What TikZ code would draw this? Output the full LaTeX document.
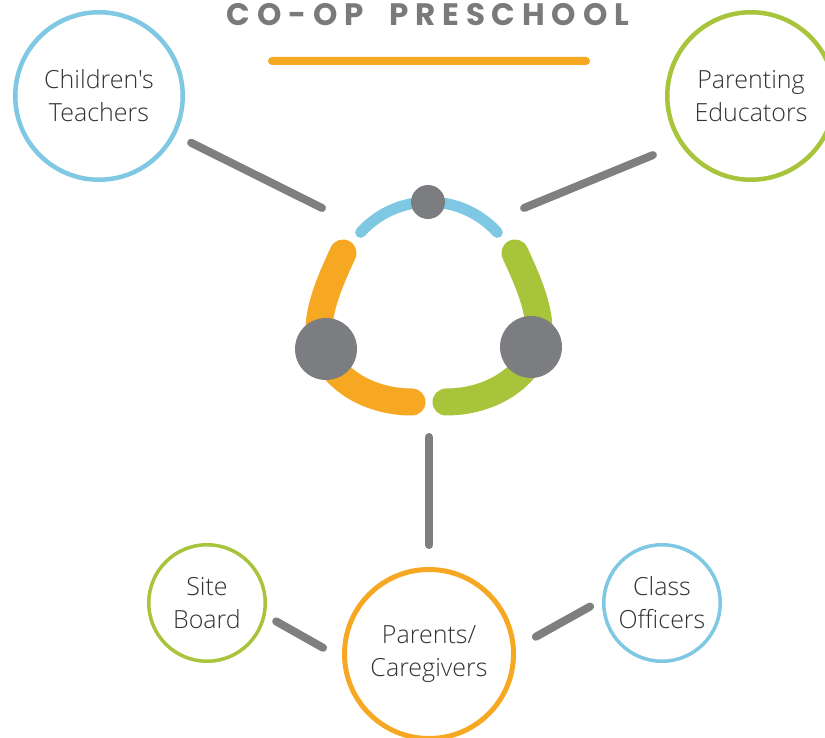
\documentclass[tikz,border=0pt]{standalone}
\usepackage{fontspec}
\newfontfamily\labelfont{Open Sans Light}
\newfontfamily\titlefont{Poppins}[LetterSpace=22]
\definecolor{cblue}{HTML}{7EC8E3}
\definecolor{corange}{HTML}{F7A823}
\definecolor{cgreen}{HTML}{A8C43A}
\definecolor{cgray}{HTML}{7F7F7F}
\definecolor{cdot}{HTML}{7C7D81}
\definecolor{ctext}{HTML}{333333}
\definecolor{ctitle}{HTML}{7A7A7A}
\tikzset{
  role/.style={circle, draw, fill=white, inner sep=0pt, align=center, text=ctext,
    font=\labelfont\fontsize{25}{33}\selectfont},
  bigrole/.style={role, line width=4.5pt, minimum size=167.5pt},
  smallrole/.style={role, line width=3.5pt, minimum size=116.5pt},
  link/.style={draw=cgray, line width=8pt, line cap=round},
  dotnode/.style={circle, fill=cdot, inner sep=0pt},
  ringarc/.style={line cap=round}
}
\begin{document}
\begin{tikzpicture}[x=1pt,y=-1pt]
\useasboundingbox (0,0) rectangle (825,738);
\clip (0,0) rectangle (825,738);
\fill[white] (0,0) rectangle (825,738);
% title
\node[text=ctitle, font=\titlefont\bfseries\fontsize{31}{31}\selectfont, inner sep=0pt] (title) at (428,15) {CO-OP\hspace{12pt} PRESCHOOL};
\node[fill=corange, rounded corners=4pt, minimum width=322pt, minimum height=8pt, inner sep=0pt] (bar) at (429,61) {};
% role circles
\node[bigrole, draw=cblue] (ct) at (99,96) {Children's\\Teachers};
\node[bigrole, draw=cgreen] (pe) at (751,96) {Parenting\\Educators};
\node[smallrole, draw=cgreen] (sb) at (207,603) {Site\\Board};
\node[smallrole, draw=cblue] (co) at (662,603) {Class\\Officers};
\node[role, draw=corange, line width=5pt, minimum size=169pt] (pc) at (429,654) {Parents/\\Caregivers};
% logo
\coordinate (hub) at (429,300);
\coordinate (tl) at (322,208);
\coordinate (tr) at (524,208);
\coordinate (hubb) at (429,437);
\draw[ringarc, cblue, line width=11pt] (429,294) ++(-138:92) arc[start angle=-138, end angle=-42, radius=92];
\draw[ringarc, corange, line width=27pt] (343,253) .. controls (332.5,275.8) and (319,305) .. (319,330)
   .. controls (319,369.7) and (360.7,402) .. (412,402);
\draw[ringarc, cgreen, line width=27pt] (515,253) .. controls (525.5,275.8) and (539,305) .. (539,330)
   .. controls (539,369.7) and (497.3,402) .. (446,402);
\node[dotnode, minimum size=34pt] (dtop) at (428,202) {};
\node[dotnode, minimum size=62pt] (dl) at (326,349) {};
\node[dotnode, minimum size=62pt] (dr) at (531,347) {};
% connectors
\draw[link, shorten <=17.3pt] (ct.-27.2) -- (tl);
\draw[link, shorten <=29pt] (pe.214.1) -- (tr);
\draw[link, shorten >=22pt] (hubb) -- (pc);
\draw[link, shorten <=12pt, shorten >=21.9pt] (sb.-12.7) -- (pc.183);
\draw[link, shorten <=23pt, shorten >=13.7pt] (pc.4.7) -- (co.177.6);
\end{tikzpicture}
\end{document}
